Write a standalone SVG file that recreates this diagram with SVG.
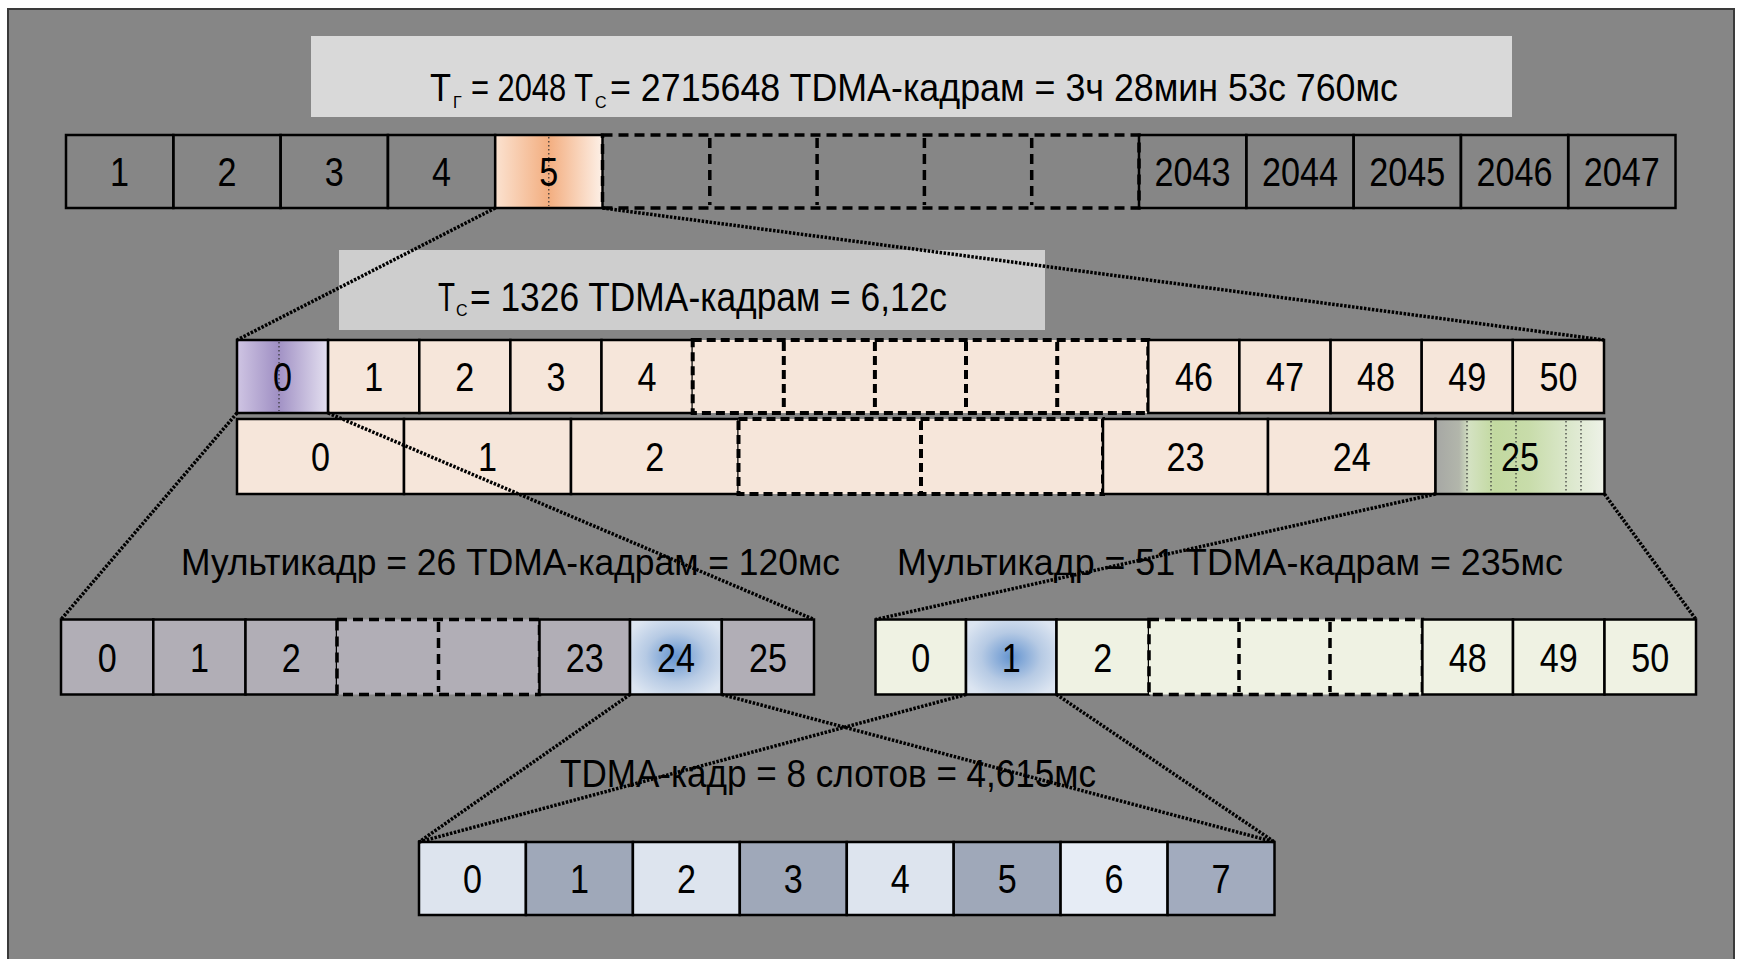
<svg xmlns="http://www.w3.org/2000/svg" width="1738" height="959" viewBox="0 0 1738 959">
<style>
  .cell { stroke:#000; stroke-width:2.5; }
  .dash { fill:none; stroke:#000; stroke-width:3.5; stroke-dasharray:10 6; }
  .num { font-family:"Liberation Sans","DejaVu Sans",sans-serif; font-size:40px; text-anchor:middle; fill:#000; }
  .ttl { font-family:"Liberation Sans","DejaVu Sans",sans-serif; fill:#000; }
  .conn { fill:none; stroke:#000; stroke-width:3.5; stroke-dasharray:2.5 1.5; }
  .dot { stroke:#333; stroke-width:1.2; stroke-dasharray:1.5 2.5; }
  .peach { fill:#f6e6da; }
  .lgray { fill:#b1aeb6; }
  .cream { fill:#eff2e3; }
  .blt { fill:#dde4ee; }
  .bdk { fill:#9fa8b9; }
</style>
<defs>
  <linearGradient id="gOrange" x1="0" y1="0" x2="1" y2="0">
    <stop offset="0" stop-color="#fbe2d0"/>
    <stop offset="0.5" stop-color="#f3ae80"/>
    <stop offset="1" stop-color="#fdf0e7"/>
  </linearGradient>
  <linearGradient id="gPurple" x1="0" y1="0" x2="1" y2="0">
    <stop offset="0" stop-color="#cfc5e3"/>
    <stop offset="0.45" stop-color="#a090c4"/>
    <stop offset="0.6" stop-color="#b3a6d0"/>
    <stop offset="1" stop-color="#e4e0f0"/>
  </linearGradient>
  <linearGradient id="gGreen" x1="0" y1="0" x2="1" y2="0">
    <stop offset="0" stop-color="#a6a7a4"/>
    <stop offset="0.14" stop-color="#b2b6ab"/>
    <stop offset="0.2" stop-color="#d4e2c2"/>
    <stop offset="0.35" stop-color="#c2d9a0"/>
    <stop offset="0.55" stop-color="#c8dcaa"/>
    <stop offset="0.8" stop-color="#dce8cd"/>
    <stop offset="1" stop-color="#eef2e8"/>
  </linearGradient>
  <radialGradient id="gBlue" cx="0.5" cy="0.5" r="0.6">
    <stop offset="0" stop-color="#6494d0"/>
    <stop offset="0.55" stop-color="#b6cae4"/>
    <stop offset="1" stop-color="#dce5f1"/>
  </radialGradient>
</defs>

<!-- background frame -->
<rect x="0" y="0" width="1738" height="959" fill="#ffffff"/>
<rect x="8" y="9" width="1726" height="960" fill="#868686" stroke="#3a3a3a" stroke-width="2"/>

<!-- titles -->
<g id="title-hyperframe">
  <rect x="311" y="36" width="1201" height="81" fill="#d9d9d9"/>
  <text class="ttl" transform="translate(430 101) scale(1 1.137)" font-size="34.4" textLength="21" lengthAdjust="spacingAndGlyphs">T</text>
  <text class="ttl" x="453" y="108" font-size="16">Г</text>
  <text class="ttl" transform="translate(471 101) scale(1 1.274)" font-size="30.7" textLength="122" lengthAdjust="spacingAndGlyphs">= 2048 T</text>
  <text class="ttl" x="595" y="108" font-size="16">С</text>
  <text class="ttl" transform="translate(610 101) scale(1 1.086)" font-size="36" textLength="788" lengthAdjust="spacingAndGlyphs">= 2715648 TDMA-кадрам = 3ч 28мин 53с 760мс</text>
</g>
<g id="title-superframe">
  <rect x="339" y="250" width="706" height="80" fill="#cecece"/>
  <text class="ttl" transform="translate(438 311) scale(1 1.43)" font-size="27.8" textLength="17" lengthAdjust="spacingAndGlyphs">T</text>
  <text class="ttl" x="456" y="316" font-size="16">С</text>
  <text class="ttl" transform="translate(470 311) scale(1 1.12)" font-size="35.5" textLength="477" lengthAdjust="spacingAndGlyphs">= 1326 TDMA-кадрам = 6,12с</text>
</g>
<g id="label-mf26">
  <text class="ttl" x="181" y="575" font-size="36" textLength="659" lengthAdjust="spacingAndGlyphs">Мультикадр = 26 TDMA-кадрам = 120мс</text>
</g>
<g id="label-mf51">
  <text class="ttl" x="897" y="575" font-size="36" textLength="666" lengthAdjust="spacingAndGlyphs">Мультикадр = 51 TDMA-кадрам = 235мс</text>
</g>
<g id="label-tdma">
  <text class="ttl" x="560" y="787" font-size="38" textLength="536" lengthAdjust="spacingAndGlyphs">TDMA-кадр = 8 слотов = 4,615мс</text>
</g>

<!-- Row 1: hyperframe -->
<g id="hyperframe">
  <g id="hf-1"><rect class="cell" x="66" y="135" width="107.3" height="73" fill="none"/><text class="num" x="119.6" y="186" textLength="19" lengthAdjust="spacingAndGlyphs">1</text></g>
  <g id="hf-2"><rect class="cell" x="173.3" y="135" width="107.3" height="73" fill="none"/><text class="num" x="227" y="186" textLength="19" lengthAdjust="spacingAndGlyphs">2</text></g>
  <g id="hf-3"><rect class="cell" x="280.6" y="135" width="107.3" height="73" fill="none"/><text class="num" x="334.2" y="186" textLength="19" lengthAdjust="spacingAndGlyphs">3</text></g>
  <g id="hf-4"><rect class="cell" x="387.9" y="135" width="107.3" height="73" fill="none"/><text class="num" x="441.5" y="186" textLength="19" lengthAdjust="spacingAndGlyphs">4</text></g>
  <g id="hf-5"><rect class="cell" x="495.2" y="135" width="107.3" height="73" fill="url(#gOrange)"/><line class="dot" x1="548.8" y1="137" x2="548.8" y2="206"/><text class="num" x="548.8" y="186" textLength="19" lengthAdjust="spacingAndGlyphs">5</text></g>
  <g id="hf-gap">
    <rect class="dash" x="602.5" y="135" width="536.5" height="73"/>
    <line class="dash" x1="709.8" y1="138" x2="709.8" y2="205"/>
    <line class="dash" x1="817.1" y1="138" x2="817.1" y2="205"/>
    <line class="dash" x1="924.4" y1="138" x2="924.4" y2="205"/>
    <line class="dash" x1="1031.7" y1="138" x2="1031.7" y2="205"/>
  </g>
  <g id="hf-2043"><rect class="cell" x="1139" y="135" width="107.3" height="73" fill="none"/><text class="num" x="1192.6" y="186" textLength="76" lengthAdjust="spacingAndGlyphs">2043</text></g>
  <g id="hf-2044"><rect class="cell" x="1246.3" y="135" width="107.3" height="73" fill="none"/><text class="num" x="1300" y="186" textLength="76" lengthAdjust="spacingAndGlyphs">2044</text></g>
  <g id="hf-2045"><rect class="cell" x="1353.6" y="135" width="107.3" height="73" fill="none"/><text class="num" x="1407.2" y="186" textLength="76" lengthAdjust="spacingAndGlyphs">2045</text></g>
  <g id="hf-2046"><rect class="cell" x="1460.9" y="135" width="107.3" height="73" fill="none"/><text class="num" x="1514.5" y="186" textLength="76" lengthAdjust="spacingAndGlyphs">2046</text></g>
  <g id="hf-2047"><rect class="cell" x="1568.2" y="135" width="107.3" height="73" fill="none"/><text class="num" x="1621.8" y="186" textLength="76" lengthAdjust="spacingAndGlyphs">2047</text></g>
</g>

<!-- Row 2: superframe of 51-multiframes -->
<g id="superframe51">
  <g id="sf51-0"><rect class="cell" x="237" y="340" width="91.1" height="73" fill="url(#gPurple)"/><line class="dot" x1="279" y1="342" x2="279" y2="411"/><text class="num" x="282.5" y="391" textLength="19" lengthAdjust="spacingAndGlyphs">0</text></g>
  <g id="sf51-1"><rect class="cell peach" x="328.1" y="340" width="91.2" height="73"/><text class="num" x="373.7" y="391" textLength="19" lengthAdjust="spacingAndGlyphs">1</text></g>
  <g id="sf51-2"><rect class="cell peach" x="419.3" y="340" width="91.1" height="73"/><text class="num" x="464.8" y="391" textLength="19" lengthAdjust="spacingAndGlyphs">2</text></g>
  <g id="sf51-3"><rect class="cell peach" x="510.4" y="340" width="91.1" height="73"/><text class="num" x="556" y="391" textLength="19" lengthAdjust="spacingAndGlyphs">3</text></g>
  <g id="sf51-4"><rect class="cell peach" x="601.5" y="340" width="91.2" height="73"/><text class="num" x="647.1" y="391" textLength="19" lengthAdjust="spacingAndGlyphs">4</text></g>
  <g id="sf51-gap">
    <rect class="peach" x="692.7" y="340" width="455.6" height="73"/>
    <rect class="dash" x="692.7" y="340" width="455.6" height="73" style="stroke-dasharray:9 5;stroke-width:4"/>
    <line class="dash" x1="783.8" y1="342" x2="783.8" y2="411" style="stroke-dasharray:9 5;stroke-width:4"/>
    <line class="dash" x1="874.9" y1="342" x2="874.9" y2="411" style="stroke-dasharray:9 5;stroke-width:4"/>
    <line class="dash" x1="966" y1="342" x2="966" y2="411" style="stroke-dasharray:9 5;stroke-width:4"/>
    <line class="dash" x1="1057.2" y1="342" x2="1057.2" y2="411" style="stroke-dasharray:9 5;stroke-width:4"/>
  </g>
  <g id="sf51-46"><rect class="cell peach" x="1148.3" y="340" width="91.1" height="73"/><text class="num" x="1193.9" y="391" textLength="38" lengthAdjust="spacingAndGlyphs">46</text></g>
  <g id="sf51-47"><rect class="cell peach" x="1239.4" y="340" width="91.2" height="73"/><text class="num" x="1285" y="391" textLength="38" lengthAdjust="spacingAndGlyphs">47</text></g>
  <g id="sf51-48"><rect class="cell peach" x="1330.6" y="340" width="91.1" height="73"/><text class="num" x="1376.1" y="391" textLength="38" lengthAdjust="spacingAndGlyphs">48</text></g>
  <g id="sf51-49"><rect class="cell peach" x="1421.7" y="340" width="91.1" height="73"/><text class="num" x="1467.3" y="391" textLength="38" lengthAdjust="spacingAndGlyphs">49</text></g>
  <g id="sf51-50"><rect class="cell peach" x="1512.8" y="340" width="91.2" height="73"/><text class="num" x="1558.4" y="391" textLength="38" lengthAdjust="spacingAndGlyphs">50</text></g>
</g>

<!-- Row 3: superframe of 26-multiframes -->
<g id="superframe26">
  <g id="sf26-0"><rect class="cell peach" x="237" y="419" width="167" height="75"/><text class="num" x="320.5" y="471" textLength="19" lengthAdjust="spacingAndGlyphs">0</text></g>
  <g id="sf26-1"><rect class="cell peach" x="404" y="419" width="167" height="75"/><text class="num" x="487.5" y="471" textLength="19" lengthAdjust="spacingAndGlyphs">1</text></g>
  <g id="sf26-2"><rect class="cell peach" x="571" y="419" width="167.5" height="75"/><text class="num" x="654.7" y="471" textLength="19" lengthAdjust="spacingAndGlyphs">2</text></g>
  <g id="sf26-gap">
    <rect class="peach" x="738.5" y="419" width="364.5" height="75"/>
    <rect class="dash" x="738.5" y="419" width="364.5" height="75" style="stroke-dasharray:9 5;stroke-width:4"/>
    <line class="dash" x1="921" y1="421" x2="921" y2="492" style="stroke-dasharray:9 5;stroke-width:4"/>
  </g>
  <g id="sf26-23"><rect class="cell peach" x="1103" y="419" width="165" height="75"/><text class="num" x="1185.5" y="471" textLength="38" lengthAdjust="spacingAndGlyphs">23</text></g>
  <g id="sf26-24"><rect class="cell peach" x="1268" y="419" width="167.5" height="75"/><text class="num" x="1351.7" y="471" textLength="38" lengthAdjust="spacingAndGlyphs">24</text></g>
  <g id="sf26-25">
    <rect class="cell" x="1435.5" y="419" width="169" height="75" fill="url(#gGreen)"/>
    <line class="dot" x1="1467" y1="421" x2="1467" y2="492"/>
    <line class="dot" x1="1491" y1="421" x2="1491" y2="492"/>
    <line class="dot" x1="1516" y1="421" x2="1516" y2="492"/>
    <line class="dot" x1="1566" y1="421" x2="1566" y2="492"/>
    <line class="dot" x1="1581" y1="421" x2="1581" y2="492"/>
    <text class="num" x="1520" y="471" textLength="38" lengthAdjust="spacingAndGlyphs">25</text>
  </g>
</g>

<!-- Row 4 left: 26-multiframe -->
<g id="multiframe26">
  <g id="mf26-0"><rect class="cell lgray" x="61" y="619.5" width="92.3" height="75"/><text class="num" x="107.2" y="671.5" textLength="19" lengthAdjust="spacingAndGlyphs">0</text></g>
  <g id="mf26-1"><rect class="cell lgray" x="153.3" y="619.5" width="92.2" height="75"/><text class="num" x="199.4" y="671.5" textLength="19" lengthAdjust="spacingAndGlyphs">1</text></g>
  <g id="mf26-2"><rect class="cell lgray" x="245.5" y="619.5" width="91.5" height="75"/><text class="num" x="291.2" y="671.5" textLength="19" lengthAdjust="spacingAndGlyphs">2</text></g>
  <g id="mf26-gap">
    <rect class="lgray" x="337" y="619.5" width="202.5" height="75"/>
    <rect class="dash" x="337" y="619.5" width="202.5" height="75"/>
    <line class="dash" x1="438.5" y1="622" x2="438.5" y2="692"/>
  </g>
  <g id="mf26-23"><rect class="cell lgray" x="539.5" y="619.5" width="90.5" height="75"/><text class="num" x="584.7" y="671.5" textLength="38" lengthAdjust="spacingAndGlyphs">23</text></g>
  <g id="mf26-24"><rect class="cell" x="630" y="619.5" width="91.8" height="75" fill="url(#gBlue)"/><text class="num" x="675.9" y="671.5" textLength="38" lengthAdjust="spacingAndGlyphs">24</text></g>
  <g id="mf26-25"><rect class="cell lgray" x="721.8" y="619.5" width="92.2" height="75"/><text class="num" x="767.9" y="671.5" textLength="38" lengthAdjust="spacingAndGlyphs">25</text></g>
</g>

<!-- Row 4 right: 51-multiframe -->
<g id="multiframe51">
  <g id="mf51-0"><rect class="cell cream" x="875.5" y="619.5" width="90.5" height="75"/><text class="num" x="920.7" y="671.5" textLength="19" lengthAdjust="spacingAndGlyphs">0</text></g>
  <g id="mf51-1"><rect class="cell" x="966" y="619.5" width="90.5" height="75" fill="url(#gBlue)"/><text class="num" x="1011.2" y="671.5" textLength="19" lengthAdjust="spacingAndGlyphs">1</text></g>
  <g id="mf51-2"><rect class="cell cream" x="1056.5" y="619.5" width="92.5" height="75"/><text class="num" x="1102.7" y="671.5" textLength="19" lengthAdjust="spacingAndGlyphs">2</text></g>
  <g id="mf51-gap">
    <rect class="cream" x="1149" y="619.5" width="273.4" height="75"/>
    <rect class="dash" x="1149" y="619.5" width="273.4" height="75"/>
    <line class="dash" x1="1239" y1="622" x2="1239" y2="692"/>
    <line class="dash" x1="1330" y1="622" x2="1330" y2="692"/>
  </g>
  <g id="mf51-48"><rect class="cell cream" x="1422.4" y="619.5" width="90.6" height="75"/><text class="num" x="1467.7" y="671.5" textLength="38" lengthAdjust="spacingAndGlyphs">48</text></g>
  <g id="mf51-49"><rect class="cell cream" x="1513" y="619.5" width="91.5" height="75"/><text class="num" x="1558.7" y="671.5" textLength="38" lengthAdjust="spacingAndGlyphs">49</text></g>
  <g id="mf51-50"><rect class="cell cream" x="1604.5" y="619.5" width="91.5" height="75"/><text class="num" x="1650.2" y="671.5" textLength="38" lengthAdjust="spacingAndGlyphs">50</text></g>
</g>

<!-- Row 5: TDMA frame -->
<g id="tdmaframe">
  <g id="ts-0"><rect class="cell blt" x="419" y="842" width="106.9" height="73"/><text class="num" x="472.5" y="893" textLength="19" lengthAdjust="spacingAndGlyphs">0</text></g>
  <g id="ts-1"><rect class="cell bdk" x="525.9" y="842" width="107" height="73"/><text class="num" x="579.4" y="893" textLength="19" lengthAdjust="spacingAndGlyphs">1</text></g>
  <g id="ts-2"><rect class="cell blt" x="632.9" y="842" width="106.9" height="73"/><text class="num" x="686.4" y="893" textLength="19" lengthAdjust="spacingAndGlyphs">2</text></g>
  <g id="ts-3"><rect class="cell bdk" x="739.8" y="842" width="107" height="73"/><text class="num" x="793.3" y="893" textLength="19" lengthAdjust="spacingAndGlyphs">3</text></g>
  <g id="ts-4"><rect class="cell blt" x="846.8" y="842" width="106.9" height="73"/><text class="num" x="900.2" y="893" textLength="19" lengthAdjust="spacingAndGlyphs">4</text></g>
  <g id="ts-5"><rect class="cell bdk" x="953.7" y="842" width="106.9" height="73"/><text class="num" x="1007.2" y="893" textLength="19" lengthAdjust="spacingAndGlyphs">5</text></g>
  <g id="ts-6"><rect class="cell" x="1060.6" y="842" width="107" height="73" fill="#e6ecf5"/><text class="num" x="1114.1" y="893" textLength="19" lengthAdjust="spacingAndGlyphs">6</text></g>
  <g id="ts-7"><rect class="cell" x="1167.6" y="842" width="106.9" height="73" fill="#a2abbe"/><text class="num" x="1221" y="893" textLength="19" lengthAdjust="spacingAndGlyphs">7</text></g>
</g>

<!-- connectors -->
<g id="connectors">
  <line class="conn" x1="495.2" y1="208" x2="237" y2="340"/>
  <line class="conn" x1="602.5" y1="208" x2="1604" y2="340"/>
  <line class="conn" x1="237" y1="413" x2="61" y2="619.5"/>
  <line class="conn" x1="328.1" y1="413" x2="814" y2="619.5"/>
  <line class="conn" x1="1435.5" y1="494" x2="875.5" y2="619.5"/>
  <line class="conn" x1="1604.5" y1="494" x2="1696" y2="619.5"/>
  <line class="conn" x1="630" y1="694.5" x2="419" y2="842"/>
  <line class="conn" x1="721.8" y1="694.5" x2="1274.5" y2="842"/>
  <line class="conn" x1="966" y1="694.5" x2="419" y2="842"/>
  <line class="conn" x1="1056.5" y1="694.5" x2="1274.5" y2="842"/>
</g>
</svg>
